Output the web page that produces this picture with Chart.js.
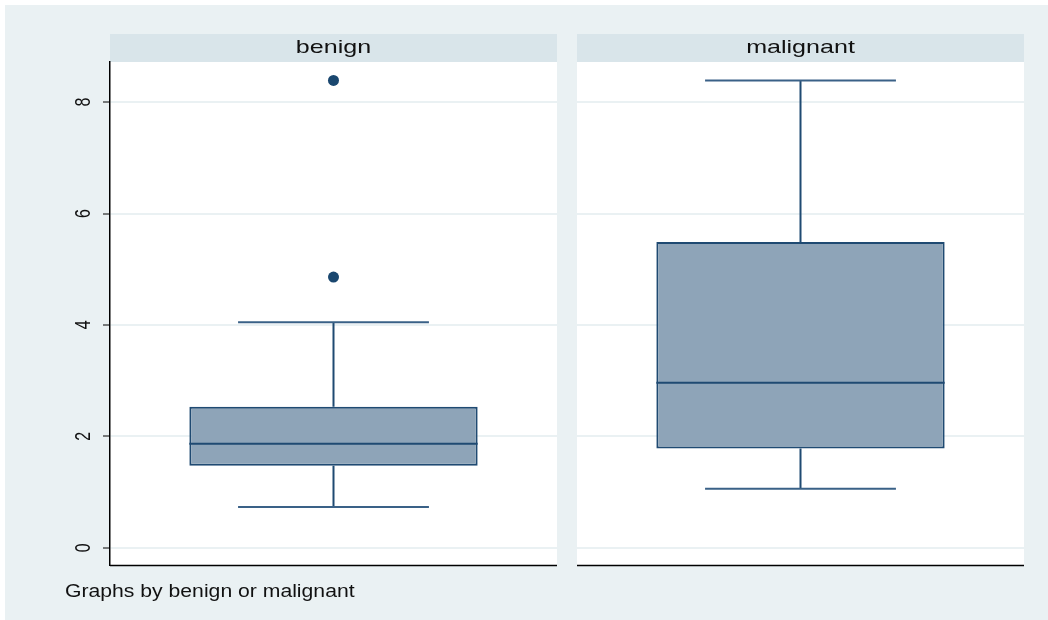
<!DOCTYPE html>
<html><head><meta charset="utf-8">
<script src="https://cdn.jsdelivr.net/npm/chart.js@4.4.0/dist/chart.umd.min.js"></script>
<style>
html,body{margin:0;padding:0;background:#fff;}
#wrap{position:absolute;left:5px;top:5px;width:1043px;height:615px;background:#eaf1f3;}
.c{position:absolute;top:0;}
#footer{position:absolute;left:60px;top:576px;font-family:"Liberation Sans",Arial,sans-serif;font-size:17.5px;color:#111;transform:scaleX(1.21);transform-origin:0 0;white-space:nowrap;}
</style></head>
<body>
<div id="wrap">
<canvas id="c1" class="c" width="562" height="615" style="left:0;width:562px;height:615px"></canvas>
<canvas id="c2" class="c" width="464" height="615" style="left:562px;width:464px;height:615px"></canvas>
<div id="footer">Graphs by benign or malignant</div>
</div>
<script>
const groups = ['benign', 'malignant'];
const whiskerLow = [0.73, 1.06];
const q1 = [1.47, 1.78];
const median = [1.865, 2.96];
const q3 = [2.53, 5.49];
const whiskerHigh = [4.05, 8.39];
const outliers = [[4.86, 8.39], []];
const yTicks = [0, 2, 4, 6, 8];
const yMin = -0.31, yMax = 8.72;

const BOX_FILL = '#8ea4b8', LINE = '#1f4a72', DOT = '#1a476f', GRID = '#eaf1f3', STRIP = '#d9e5ea';

const boxPlugin = {
  id: 'boxplugin',
  beforeDraw(chart) {
    const {ctx, chartArea: a} = chart;
    ctx.save();
    ctx.fillStyle = '#ffffff';
    ctx.fillRect(a.left, a.top, a.right - a.left, a.bottom - a.top);
    ctx.fillStyle = STRIP;
    ctx.fillRect(a.left, a.top - 28, a.right - a.left, 28);
    ctx.fillStyle = '#111';
    ctx.font = '19px "Liberation Sans", Arial, sans-serif';
    ctx.textAlign = 'center'; ctx.textBaseline = 'middle';
    ctx.translate((a.left + a.right) / 2, a.top - 14);
    ctx.scale(1.32, 1);
    ctx.fillText(chart.options.plugins.panelTitle, 0, 0);
    ctx.restore();
  },
  afterDatasetsDraw(chart) {
    const {ctx, chartArea: a, scales: {x, y}} = chart;
    const g = chart.options.plugins.groupIndex;
    const cx = x.getPixelForValue(0);
    const half = x.width * 0.2135;
    ctx.save();
    ctx.strokeStyle = LINE; ctx.lineWidth = 2;
    ctx.beginPath();
    const bar = chart.getDatasetMeta(0).data[0];
    ctx.moveTo(bar.x - bar.width / 2, y.getPixelForValue(median[g]));
    ctx.lineTo(bar.x + bar.width / 2, y.getPixelForValue(median[g]));
    ctx.moveTo(cx, y.getPixelForValue(q3[g]));
    ctx.lineTo(cx, y.getPixelForValue(whiskerHigh[g]));
    ctx.moveTo(cx, y.getPixelForValue(q1[g]));
    ctx.lineTo(cx, y.getPixelForValue(whiskerLow[g]));
    ctx.stroke();
    ctx.strokeStyle = '#3a6187';
    ctx.beginPath();
    ctx.moveTo(cx - half, y.getPixelForValue(whiskerHigh[g]));
    ctx.lineTo(cx + half, y.getPixelForValue(whiskerHigh[g]));
    ctx.moveTo(cx - half, y.getPixelForValue(whiskerLow[g]));
    ctx.lineTo(cx + half, y.getPixelForValue(whiskerLow[g]));
    ctx.stroke();
    ctx.strokeStyle = '#000'; ctx.lineWidth = 1.5;
    ctx.beginPath();
    ctx.moveTo(a.left, a.bottom + 0.5); ctx.lineTo(a.right, a.bottom + 0.5);
    ctx.stroke();
    if (chart.options.plugins.showYLabels) {
      ctx.fillStyle = '#111';
      ctx.font = '16px "Liberation Sans", Arial, sans-serif';
      ctx.textAlign = 'center'; ctx.textBaseline = 'middle';
      y.ticks.forEach(t => {
        const py = y.getPixelForValue(t.value);
        ctx.save();
        ctx.translate(a.left - 26.5, py);
        ctx.scale(1.4, 1);
        ctx.rotate(-Math.PI / 2);
        ctx.fillText(String(t.value), 0, 0);
        ctx.restore();
      });
    }
    ctx.restore();
  }
};

function makeChart(id, g, showAxis, padLeft, padRight) {
  return new Chart(document.getElementById(id), {
    data: {
      labels: [groups[g]],
      datasets: [
        {type: 'bar', data: [[q1[g], q3[g]]], backgroundColor: BOX_FILL, borderColor: LINE,
         borderWidth: 2, borderSkipped: false, categoryPercentage: 1, barPercentage: 0.645, order: 2},
        {type: 'line', data: outliers[g].map(v => ({x: groups[g], y: v})), showLine: false,
         pointRadius: 5.5, pointBackgroundColor: DOT, pointBorderColor: DOT, pointBorderWidth: 0, order: 1}
      ]
    },
    options: {
      responsive: false, animation: false,
      layout: {padding: {left: padLeft, right: padRight, top: 57, bottom: 55}},
      plugins: {legend: {display: false}, tooltip: {enabled: false},
        panelTitle: groups[g], groupIndex: g, showYLabels: showAxis},
      scales: {
        x: {display: false, type: 'category'},
        y: {
          min: yMin, max: yMax,
          afterBuildTicks: s => { s.ticks = yTicks.map(v => ({value: v})); },
          afterFit: s => { s.width = showAxis ? 105 : 0; },
          grid: {color: GRID, lineWidth: 2, drawTicks: showAxis, tickLength: 7, tickColor: '#000', tickWidth: 1},
          border: {display: showAxis, color: '#000', width: 1.5},
          ticks: {display: false}
        }
      }
    },
    plugins: [boxPlugin]
  });
}
makeChart('c1', 0, true, 0, 10);
makeChart('c2', 1, false, 10, 7);
</script>
</body></html>
